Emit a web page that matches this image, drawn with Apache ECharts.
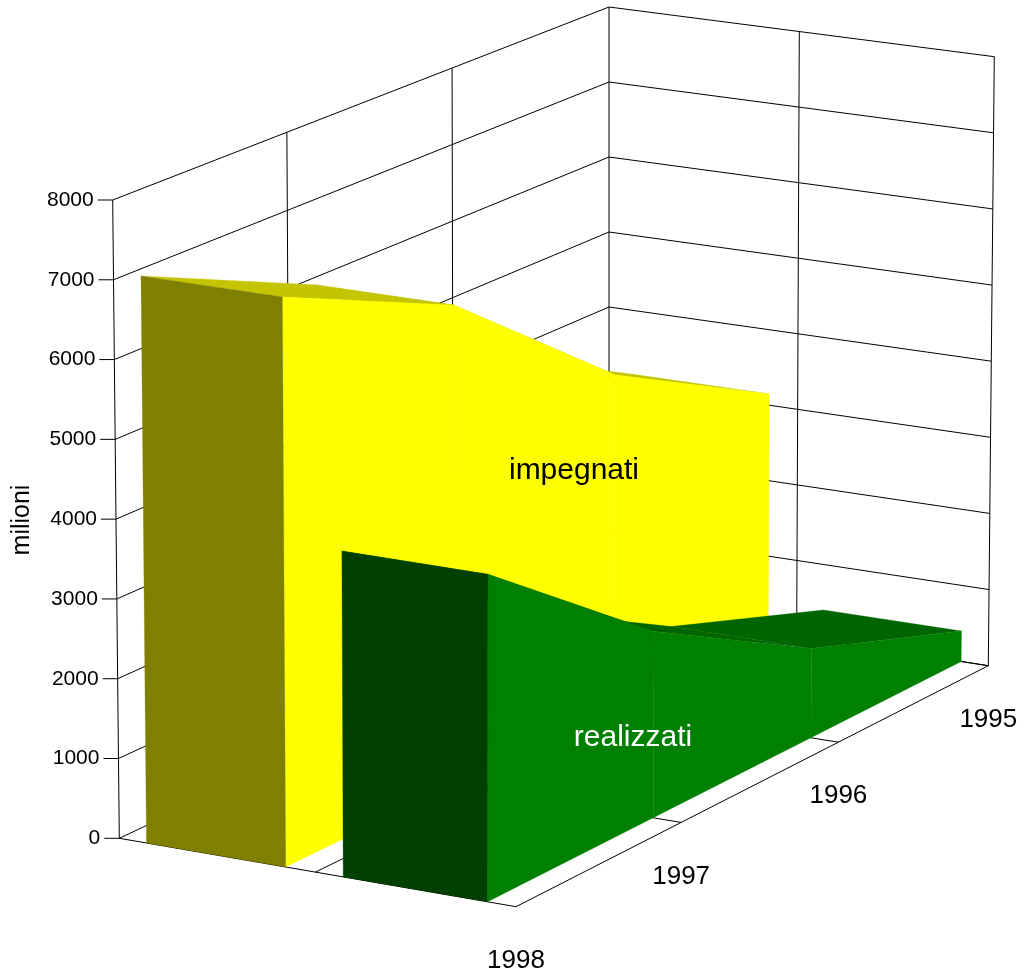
<!DOCTYPE html>
<html>
<head>
<meta charset="utf-8">
<style>html,body{margin:0;padding:0;background:#fff}#c{width:1027px;height:973px}</style>
<script src="https://cdn.jsdelivr.net/npm/echarts@6/dist/echarts.min.js"></script>
</head>
<body>
<div id="c"></div>
<script>
const years = [1995, 1996, 1997, 1998];
const impegnati = [3150, 4300, 6100, 7100];
const realizzati = [400, 1150, 2350, 4050];
const valueTicks = [0, 1000, 2000, 3000, 4000, 5000, 6000, 7000, 8000];
const seriesNames = ['impegnati', 'realizzati'];
const valueAxisName = 'milioni';

const W = 1000, H = 800;
const FONT = '"Liberation Sans", Arial, sans-serif';

function quadMap(q) {
  const [[x0,y0],[x1,y1],[x2,y2],[x3,y3]] = q;
  const dx1=x1-x2, dx2=x3-x2, sx=x0-x1+x2-x3, dy1=y1-y2, dy2=y3-y2, sy=y0-y1+y2-y3;
  const den=dx1*dy2-dx2*dy1;
  const g=(sx*dy2-dx2*sy)/den, h=(dx1*sy-sx*dy1)/den;
  const a=x1-x0+g*x1, b=x3-x0+h*x3, d=y1-y0+g*y1, e=y3-y0+h*y3;
  return (u,v)=>{const w=g*u+h*v+1;return [(a*u+b*v+x0)/w,(d*u+e*v+y0)/w];};
}
const floorMap = quadMap([[119.3,838.3],[516,906.7],[988.3,665.7],[609,607]]);
const roofMap  = quadMap([[112.7,200],[517,259],[994.3,56.7],[609,7]]);
function project(u,v,z){
  const f=floorMap(u,v), r=roofMap(u,v);
  return [f[0]+(r[0]-f[0])*z, f[1]+(r[1]-f[1])*z];
}
// value + year -> hidden ECharts cartesian scales -> 3D box fractions -> screen
function P(api,u,year,value){
  const c=api.coord([year,value]);
  return project(u, c[0]/W, (H-c[1])/H);
}
const poly=(points,fill,z2)=>({type:'polygon',z2,shape:{points},style:{fill,stroke:fill,lineWidth:0.3}});
const line=(a,b,z2)=>({type:'line',z2:z2||0,shape:{x1:a[0],y1:a[1],x2:b[0],y2:b[1]},style:{stroke:'#000',lineWidth:1,fill:null}});

function ribbonItem(u0,u1,vals,topC,sideC,frontC){
  return function(params,api){
    const i=params.dataIndex, children=[], y=years[i], val=vals[i];
    if(i<years.length-1){
      const y2=years[i+1], val2=vals[i+1];
      children.push(poly([P(api,u0,y,val),P(api,u1,y,val),P(api,u1,y2,val2),P(api,u0,y2,val2)],topC,1+i));
      children.push(poly([P(api,u1,y,0),P(api,u1,y,val),P(api,u1,y2,val2),P(api,u1,y2,0)],sideC,10));
    } else {
      children.push(poly([P(api,u0,y,0),P(api,u0,y,val),P(api,u1,y,val),P(api,u1,y,0)],frontC,11));
    }
    return {type:'group',children};
  };
}
function frameItem(params,api){
  const c=[];
  const y0=years[years.length-1], y1=years[0], top=valueTicks[valueTicks.length-1];
  valueTicks.forEach(t=>{
    const a=P(api,0,y0,t), d=P(api,0,y1,t), e=P(api,1,y1,t);
    c.push(line(a,d), line(d,e));
    c.push(line([a[0]-15,a[1]],a));
    c.push({type:'text',style:{text:String(t),x:a[0]-19,y:a[1],align:'right',verticalAlign:'middle',font:'21px '+FONT,fill:'#000'}});
  });
  years.forEach(y=>{
    c.push(line(P(api,0,y,0),P(api,0,y,top)));
    c.push(line(P(api,0,y,0),P(api,1,y,0)));
    const b=P(api,1,y,0);
    c.push({type:'text',style:{text:String(y),x:b[0],y:b[1]+54,align:'center',verticalAlign:'middle',font:'26px '+FONT,fill:'#000'}});
  });
  c.push(line(P(api,1,y1,0),P(api,1,y1,top)));
  c.push(line(P(api,.5,y1,0),P(api,.5,y1,top)));
  c.push(line(P(api,.5,y0,0),P(api,.5,y1,0)));
  c.push(line(P(api,1,y0,0),P(api,1,y1,0)));
  return {type:'group',children:c};
}
const data=a=>years.map((y,i)=>[y,a[i]]);
const chart=echarts.init(document.getElementById('c'),null,{renderer:'canvas'});
chart.setOption({
  animation:false,
  backgroundColor:'#fff',
  grid:{left:0,top:0,width:W,height:H,show:false},
  xAxis:{type:'value',min:1995,max:1998,inverse:true,show:false},
  yAxis:{type:'value',min:0,max:8000,interval:1000,show:false},
  graphic:[
    {type:'text',x:574,y:471,z:100,style:{text:seriesNames[0],align:'center',verticalAlign:'middle',font:'30px '+FONT,fill:'#000'}},
    {type:'text',x:633,y:738,z:100,style:{text:seriesNames[1],align:'center',verticalAlign:'middle',font:'30px '+FONT,fill:'#fff'}},
    {type:'text',x:22,y:520,rotation:Math.PI/2,z:100,style:{text:valueAxisName,align:'center',verticalAlign:'middle',font:'25px '+FONT,fill:'#000'}}
  ],
  series:[
    {type:'custom',name:'frame',z:1,coordinateSystem:'cartesian2d',silent:true,clip:false,data:[[years[0],0]],renderItem:frameItem},
    {type:'custom',name:seriesNames[0],z:2,coordinateSystem:'cartesian2d',silent:true,clip:false,data:data(impegnati),renderItem:ribbonItem(.07,.425,impegnati,'#c4c400','#ffff00','#808000')},
    {type:'custom',name:seriesNames[1],z:3,coordinateSystem:'cartesian2d',silent:true,clip:false,data:data(realizzati),renderItem:ribbonItem(.57,.93,realizzati,'#006400','#008000','#004000')}
  ]
});
</script>
</body>
</html>
